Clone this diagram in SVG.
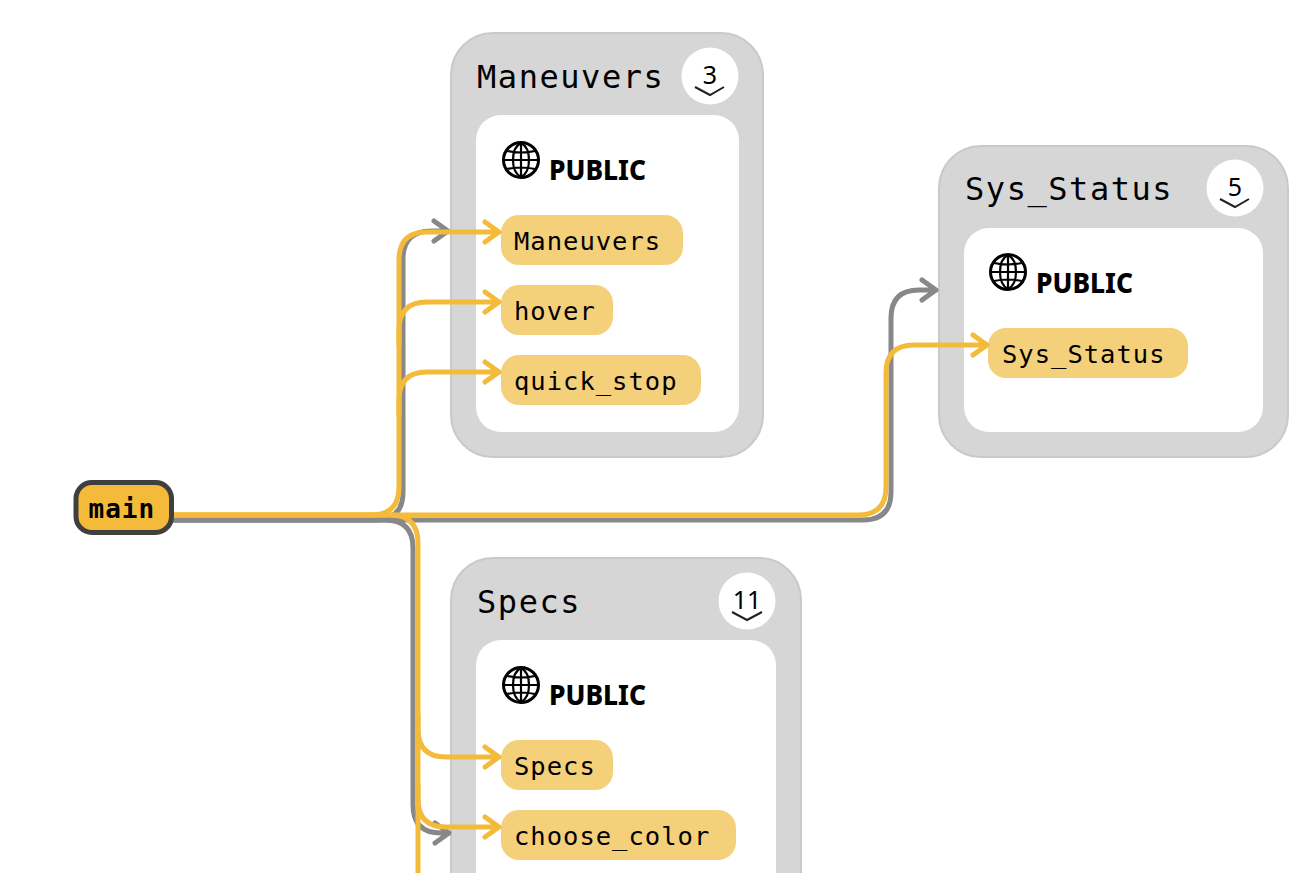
<svg xmlns="http://www.w3.org/2000/svg" width="1311" height="873" viewBox="0 0 1311 873">
<style>
.outer{fill:#d6d6d6;stroke:#c9c9c9;stroke-width:2}
.inner{fill:#fff}
.title{font-family:"DejaVu Sans Mono","Liberation Mono",monospace;font-size:32px;letter-spacing:1.55px;fill:#000}
.chip{fill:#f4d07a}
.label{font-family:"DejaVu Sans Mono","Liberation Mono",monospace;font-size:25.500px;letter-spacing:1px;fill:#000}
.pub{font-family:"Noto Sans",sans-serif;font-weight:800;font-size:29px;fill:#000}
.count{font-family:"Noto Sans",sans-serif;font-size:25px;fill:#000;text-anchor:middle}
.globe{fill:none;stroke:#000;stroke-width:3}
.globe2{fill:none;stroke:#000;stroke-width:2.200}
.chev{fill:none;stroke:#222;stroke-width:2}
.y{fill:none;stroke:#f4bb3a;stroke-width:5;stroke-linecap:round;stroke-linejoin:round}
.g{fill:none;stroke:#888;stroke-width:5;stroke-linecap:round;stroke-linejoin:round}
</style>
<defs>
<g id="globe">
<circle class="globe" r="17.500"/>
<path class="globe2" d="M0-17V17M-17 0H17M-8 0C-8-10-4-15 0-17C4-15 8-10 8 0C8 10 4 15 0 17C-4 15-8 10-8 0M-14-9Q0-6 14-9M-14 9Q0 6 14 9"/>
</g>
</defs>
<g id="node-maneuvers">
<rect class="outer" x="451" y="33" width="312" height="424" rx="42"/>
<rect class="inner" x="476" y="115" width="263" height="317" rx="25"/>
<text class="title" x="477" y="88">Maneuvers</text>
<circle cx="710" cy="76" r="28.500" fill="#fff"/>
<text class="count" x="710" y="84">3</text>
<path class="chev" d="M695 87L710 95L724 87"/>
<use href="#globe" x="521" y="160"/>
<text class="pub" x="549" y="180" textLength="97" lengthAdjust="spacingAndGlyphs">PUBLIC</text>
<rect class="chip" x="501" y="215" width="182" height="50" rx="18"/>
<text class="label" x="514" y="249.500">Maneuvers</text>
<rect class="chip" x="501" y="285" width="112" height="50" rx="18"/>
<text class="label" x="514" y="319.500">hover</text>
<rect class="chip" x="501" y="355" width="200" height="50" rx="18"/>
<text class="label" x="514" y="389.500">quick_stop</text>
</g>
<g id="node-sys-status">
<rect class="outer" x="939" y="146" width="349" height="311" rx="42"/>
<rect class="inner" x="964" y="228" width="299" height="204" rx="25"/>
<text class="title" x="965" y="200">Sys_Status</text>
<circle cx="1235" cy="188" r="28.500" fill="#fff"/>
<text class="count" x="1235" y="196">5</text>
<path class="chev" d="M1220 199L1235 207L1249 199"/>
<use href="#globe" x="1008" y="272"/>
<text class="pub" x="1036" y="293" textLength="97" lengthAdjust="spacingAndGlyphs">PUBLIC</text>
<rect class="chip" x="988" y="328" width="200" height="50" rx="18"/>
<text class="label" x="1002" y="362.500">Sys_Status</text>
</g>
<g id="node-specs">
<rect class="outer" x="451" y="558" width="350" height="360" rx="42"/>
<rect class="inner" x="476" y="640" width="300" height="260" rx="25"/>
<text class="title" x="477" y="613">Specs</text>
<circle cx="747" cy="601" r="28.500" fill="#fff"/>
<text class="count" x="747" y="609">11</text>
<path class="chev" d="M732 612L747 620L762 612"/>
<use href="#globe" x="521" y="685"/>
<text class="pub" x="549" y="705" textLength="97" lengthAdjust="spacingAndGlyphs">PUBLIC</text>
<rect class="chip" x="501" y="740" width="112" height="50" rx="18"/>
<text class="label" x="514" y="774.500">Specs</text>
<rect class="chip" x="501" y="810" width="235" height="50" rx="18"/>
<text class="label" x="514" y="844.500">choose_color</text>
</g>
<g id="connectors">
<path class="g" d="M172 520H375Q403 520 403 492V259Q403 231 431 231H448M434 221L448 231L434 241"/>
<path class="g" d="M172 520H863Q891 520 891 492V318Q891 290 919 290H936M922 280L936 290L922 300"/>
<path class="g" d="M172 520H385Q413 520 413 548V805Q413 833 441 833H449M435 823L449 833L435 843"/>
<path class="y" d="M172 515H371Q399 515 399 487V260Q399 232 427 232H499M485 222L499 232L485 242"/>
<path class="y" d="M399 345V330Q399 302 427 302H499M485 292L499 302L485 312"/>
<path class="y" d="M399 415V400Q399 372 427 372H499M485 362L499 372L485 382"/>
<path class="y" d="M172 515H858Q886 515 886 487V373Q886 345 914 345H987M973 335L987 345L973 355"/>
<path class="y" d="M172 515H390Q418 515 418 543V875"/>
<path class="y" d="M418 715V729Q418 757 446 757H499M485 747L499 757L485 767"/>
<path class="y" d="M418 785V799Q418 827 446 827H499M485 817L499 827L485 837"/>
</g>
<g id="node-main">
<rect x="76" y="482.500" width="95.500" height="50" rx="16" fill="#f4bb3a" stroke="#3f3f3f" stroke-width="5"/>
<text x="88.500" y="518" font-family="'DejaVu Sans Mono','Liberation Mono',monospace" font-weight="700" font-size="26px" letter-spacing="1">main</text>
</g>
</svg>
